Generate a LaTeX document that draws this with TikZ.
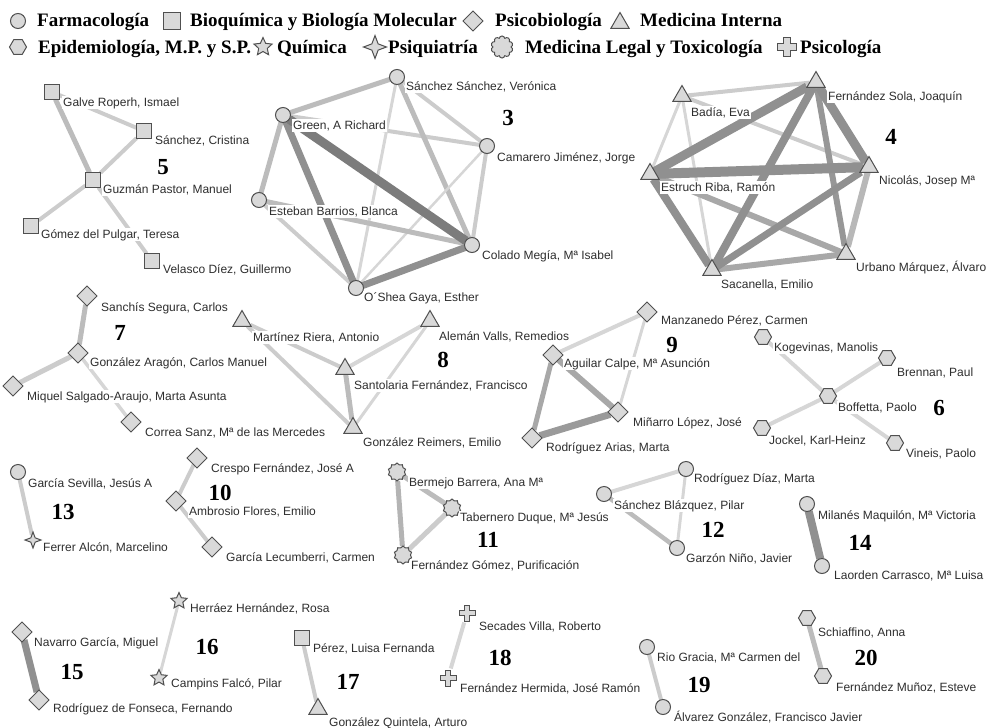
\documentclass[tikz,border=0pt]{standalone}
\usepackage{fontspec}
\setmainfont{Liberation Serif}
\newfontfamily\labfont{Liberation Sans}
\usetikzlibrary{shapes.geometric,shapes.symbols,backgrounds}

\definecolor{nodefill}{HTML}{D9D9D9}
\definecolor{nodeline}{HTML}{505050}
\definecolor{labtext}{HTML}{2E2E2E}
\definecolor{ecA}{HTML}{D6D6D6}
\definecolor{ecB}{HTML}{CCCCCC}
\definecolor{ecC}{HTML}{BCBCBC}
\definecolor{ecD}{HTML}{A8A8A8}
\definecolor{ecE}{HTML}{909090}
\definecolor{ecF}{HTML}{7C7C7C}

\begin{document}
\begin{tikzpicture}[x=1pt,y=-1pt,
  base/.style={draw=nodeline, fill=nodefill, line width=1pt, inner sep=0pt, outer sep=0pt},
  farm/.style={base, circle, minimum size=15pt},
  bioq/.style={base, rectangle, minimum size=15pt},
  psicob/.style={base, diamond, aspect=1, minimum size=20pt},
  medint/.style={base, regular polygon, regular polygon sides=3, minimum size=21pt},
  epid/.style={base, regular polygon, regular polygon sides=6, minimum size=17pt},
  quim/.style={base, star, star points=5, star point ratio=2.1, minimum size=17pt},
  psiq/.style={base, star, star points=4, star point ratio=2.6, minimum size=18pt},
  legal/.style={base, cloud, cloud puffs=10, cloud puff arc=160, aspect=1, minimum size=18pt},
  psicol/.style={rectangle, minimum size=19pt, inner sep=0pt, outer sep=0pt,
    path picture={\draw[draw=nodeline, fill=nodefill, line width=1pt]
      (path picture bounding box.center) ++(-2.8,-8) -- ++(5.6,0) -- ++(0,5.2) -- ++(5.2,0)
      -- ++(0,5.6) -- ++(-5.2,0) -- ++(0,5.2) -- ++(-5.6,0) -- ++(0,-5.2) -- ++(-5.2,0)
      -- ++(0,-5.6) -- ++(5.2,0) -- cycle;}},
  big/.style={scale=1.2},
  lbl/.style={font=\labfont\fontsize{12}{14}\selectfont, text=labtext, fill=white,
    anchor=base west, inner sep=1pt},
  num/.style={font=\fontsize{23}{26}\selectfont\bfseries, inner sep=0pt},
  leg/.style={font=\fontsize{19}{22}\selectfont\bfseries, anchor=base west, inner sep=0pt},
  ea/.style={draw=ecA, line width=3pt},
  eb/.style={draw=ecB, line width=4pt},
  ec/.style={draw=ecC, line width=5pt},
  ed/.style={draw=ecD, line width=6pt},
  ee/.style={draw=ecE, line width=8pt},
  ef/.style={draw=ecF, line width=9pt}]

\useasboundingbox (0,0) rectangle (993,728);

% ---------- legend ----------
\node[farm]   (lg1) at (18,21) {};  \node[leg] (lt1) at (37,27)  {Farmacología};
\node[bioq, minimum size=17pt] (lg2) at (172,21) {}; \node[leg] (lt2) at (190,27) {Bioquímica y Biología Molecular};
\node[psicob] (lg3) at (473,21) {}; \node[leg] (lt3) at (495,27) {Psicobiología};
\node[medint] (lg4) at (620,23) {}; \node[leg] (lt4) at (640,27) {Medicina Interna};
\node[epid]   (lg5) at (18,47) {};  \node[leg] (lt5) at (38,53)  {Epidemiología, M.P. y S.P.};
\node[quim, minimum size=19pt]  (lg6) at (263,47) {}; \node[leg] (lt6) at (277,53) {Química};
\node[psiq, minimum size=23pt]  (lg7) at (375,47) {}; \node[leg] (lt7) at (388,53) {Psiquiatría};
\node[legal, minimum size=22pt] (lg8) at (502,47) {}; \node[leg] (lt8) at (525,53) {Medicina Legal y Toxicología};
\node[psicol, big] (lg9) at (787,47) {}; \node[leg] (lt9) at (800,53) {Psicología};

% ---------- group 5 ----------
\node[bioq] (g5a) at (52,92) {};   \node[lbl] at (62,106)  {Galve Roperh, Ismael};
\node[bioq] (g5b) at (144,131) {}; \node[lbl] at (154,144) {Sánchez, Cristina};
\node[bioq] (g5c) at (93,180) {};  \node[lbl] at (102,193) {Guzmán Pastor, Manuel};
\node[bioq] (g5d) at (31,226) {};  \node[lbl] at (40,238)  {Gómez del Pulgar, Teresa};
\node[bioq] (g5e) at (152,261) {}; \node[lbl] at (162,273) {Velasco Díez, Guillermo};
\node[num] (n5) at (163,167) {5};

% ---------- group 3 ----------
\node[farm] (g3a) at (397,77) {};  \node[lbl] at (405,90)  {Sánchez Sánchez, Verónica};
\node[farm] (g3b) at (283,115) {}; \node[lbl] at (292,129) {Green, A Richard};
\node[farm] (g3c) at (487,146) {}; \node[lbl] at (496,161) {Camarero Jiménez, Jorge};
\node[farm] (g3d) at (259,200) {}; \node[lbl] at (268,215) {Esteban Barrios, Blanca};
\node[farm] (g3e) at (472,245) {}; \node[lbl] at (481,259) {Colado Megía, Mª Isabel};
\node[farm] (g3f) at (356,288) {}; \node[lbl] at (363,301) {O´Shea Gaya, Esther};
\node[num] (n3) at (508,118) {3};

% ---------- group 4 ----------
\node[medint] (g4a) at (682,96) {};  \node[lbl] at (690,116) {Badía, Eva};
\node[medint] (g4b) at (816,82) {};  \node[lbl] at (827,100) {Fernández Sola, Joaquín};
\node[medint] (g4c) at (650,174) {}; \node[lbl] at (660,191) {Estruch Riba, Ramón};
\node[medint] (g4d) at (869,167) {}; \node[lbl] at (878,184) {Nicolás, Josep Mª};
\node[medint] (g4e) at (846,254) {}; \node[lbl] at (855,271) {Urbano Márquez, Álvaro};
\node[medint] (g4f) at (712,270) {}; \node[lbl] at (720,288) {Sacanella, Emilio};
\node[num] (n4) at (891,137) {4};

% ---------- group 7 ----------
\node[psicob] (g7a) at (87,296) {};  \node[lbl] at (100,311) {Sanchís Segura, Carlos};
\node[psicob] (g7b) at (78,353) {};  \node[lbl] at (89,366)  {González Aragón, Carlos Manuel};
\node[psicob] (g7c) at (13,386) {};  \node[lbl] at (26,400)  {Miquel Salgado-Araujo, Marta Asunta};
\node[psicob] (g7d) at (131,422) {}; \node[lbl] at (144,436) {Correa Sanz, Mª de las Mercedes};
\node[num] (n7) at (120,333) {7};

% ---------- group 8 ----------
\node[medint] (g8a) at (242,321) {}; \node[lbl] at (252,341) {Martínez Riera, Antonio};
\node[medint] (g8b) at (430,321) {}; \node[lbl] at (438,340) {Alemán Valls, Remedios};
\node[medint] (g8c) at (345,369) {}; \node[lbl] at (353,389) {Santolaria Fernández, Francisco};
\node[medint] (g8d) at (353,428) {}; \node[lbl] at (362,446) {González Reimers, Emilio};
\node[num] (n8) at (443,360) {8};

% ---------- group 9 ----------
\node[psicob] (g9a) at (647,312) {}; \node[lbl] at (660,324) {Manzanedo Pérez, Carmen};
\node[psicob] (g9b) at (553,355) {}; \node[lbl] at (563,367) {Aguilar Calpe, Mª Asunción};
\node[psicob] (g9c) at (618,412) {}; \node[lbl] at (632,426) {Miñarro López, José};
\node[psicob] (g9d) at (532,438) {}; \node[lbl] at (545,451) {Rodríguez Arias, Marta};
\node[num] (n9) at (672,345) {9};

% ---------- group 6 ----------
\node[epid] (g6a) at (763,337) {}; \node[lbl] at (773,351) {Kogevinas, Manolis};
\node[epid] (g6b) at (887,358) {}; \node[lbl] at (896,376) {Brennan, Paul};
\node[epid] (g6c) at (828,396) {}; \node[lbl] at (837,411) {Boffetta, Paolo};
\node[epid] (g6d) at (762,428) {}; \node[lbl] at (768,444) {Jockel, Karl-Heinz};
\node[epid] (g6e) at (895,443) {}; \node[lbl] at (905,457) {Vineis, Paolo};
\node[num] (n6) at (939,408) {6};

% ---------- group 13 ----------
\node[farm] (g13a) at (18,472) {}; \node[lbl] at (27,487) {García Sevilla, Jesús A};
\node[psiq, minimum size=16pt] (g13b) at (33,540) {}; \node[lbl] at (42,551) {Ferrer Alcón, Marcelino};
\node[num] (n13) at (63,512) {13};

% ---------- group 10 ----------
\node[psicob] (g10a) at (197,458) {}; \node[lbl] at (210,472) {Crespo Fernández, José A};
\node[psicob] (g10b) at (176,501) {}; \node[lbl] at (188,515) {Ambrosio Flores, Emilio};
\node[psicob] (g10c) at (212,547) {}; \node[lbl] at (225,561) {García Lecumberri, Carmen};
\node[num] (n10) at (220,493) {10};

% ---------- group 11 ----------
\node[legal] (g11a) at (397,472) {}; \node[lbl] at (408,486) {Bermejo Barrera, Ana Mª};
\node[legal] (g11b) at (452,508) {}; \node[lbl] at (459,521) {Tabernero Duque, Mª Jesús};
\node[legal] (g11c) at (403,555) {}; \node[lbl] at (410,569) {Fernández Gómez, Purificación};
\node[num] (n11) at (488,540) {11};

% ---------- group 12 ----------
\node[farm] (g12a) at (686,469) {}; \node[lbl] at (693,482) {Rodríguez Díaz, Marta};
\node[farm] (g12b) at (604,494) {}; \node[lbl] at (613,509) {Sánchez Blázquez, Pilar};
\node[farm] (g12c) at (677,548) {}; \node[lbl] at (685,562) {Garzón Niño, Javier};
\node[num] (n12) at (713,530) {12};

% ---------- group 14 ----------
\node[farm] (g14a) at (807,504) {}; \node[lbl] at (817,519) {Milanés Maquilón, Mª Victoria};
\node[farm] (g14b) at (822,566) {}; \node[lbl] at (833,579) {Laorden Carrasco, Mª Luisa};
\node[num] (n14) at (860,543) {14};

% ---------- group 15 ----------
\node[psicob] (g15a) at (22,632) {}; \node[lbl] at (33,646) {Navarro García, Miguel};
\node[psicob] (g15b) at (39,700) {}; \node[lbl] at (52,712) {Rodríguez de Fonseca, Fernando};
\node[num] (n15) at (72,672) {15};

% ---------- group 16 ----------
\node[quim] (g16a) at (179,601) {}; \node[lbl] at (189,612) {Herráez Hernández, Rosa};
\node[quim] (g16b) at (159,678) {}; \node[lbl] at (170,687) {Campins Falcó, Pilar};
\node[num] (n16) at (207,647) {16};

% ---------- group 17 ----------
\node[bioq]   (g17a) at (302,638) {}; \node[lbl] at (312,652) {Pérez, Luisa Fernanda};
\node[medint] (g17b) at (318,709) {}; \node[lbl] at (328,726) {González Quintela, Arturo};
\node[num] (n17) at (348,682) {17};

% ---------- group 18 ----------
\node[psicol] (g18a) at (467,613) {}; \node[lbl] at (478,630) {Secades Villa, Roberto};
\node[psicol] (g18b) at (448,678) {}; \node[lbl] at (459,692) {Fernández Hermida, José Ramón};
\node[num] (n18) at (500,658) {18};

% ---------- group 19 ----------
\node[farm] (g19a) at (647,647) {}; \node[lbl] at (656,661) {Rio Gracia, Mª Carmen del};
\node[farm] (g19b) at (663,707) {}; \node[lbl] at (673,721) {Álvarez González, Francisco Javier};
\node[num] (n19) at (699,685) {19};

% ---------- group 20 ----------
\node[epid] (g20a) at (807,618) {}; \node[lbl] at (817,636) {Schiaffino, Anna};
\node[epid] (g20b) at (823,676) {}; \node[lbl] at (835,691) {Fernández Muñoz, Esteve};
\node[num] (n20) at (866,658) {20};

% ---------- co-authorship links (under nodes and labels) ----------
\begin{scope}[on background layer]
  % group 5
  \draw[ec] (g5a) -- (g5c);
  \draw[eb] (g5a) -- (g5b);
  \draw[eb] (g5b) -- (g5c);
  \draw[eb] (g5c) -- (g5d);
  \draw[eb] (g5c) -- (g5e);
  % group 3
  \draw[ec] (g3b) -- (g3a);
  \draw[ec] (g3b) -- (g3d);
  \draw[eb] (g3b) -- (g3c);
  \draw[ea] (g3a) -- (g3f);
  \draw[ec] (g3a) -- (g3e);
  \draw[eb] (g3a) -- (g3c);
  \draw[eb] (g3c) -- (g3e);
  \draw[ea, line width=2.5pt] (g3c) -- (g3f);
  \draw[ec] (g3d) -- (g3e);
  \draw[eb] (g3d) -- (g3f);
  \draw[ee, line width=7pt] (g3b) -- (g3f);
  \draw[ee, line width=7pt] (g3e) -- (g3f);
  \draw[ef] (g3b) -- (g3e);
  % group 4
  \draw[eb] (g4a) -- (g4b);
  \draw[ea] (g4a) -- (g4c);
  \draw[ea] (g4a) -- (g4f);
  \draw[eb] (g4a) -- (g4d);
  \draw[ed] (g4c) -- (g4e);
  \draw[ed, draw=ecC!80!ecD] (g4d) -- (g4e);
  \draw[ed] (g4e) -- (g4f);
  \draw[ee, line width=6pt, draw=ecE!70!ecD] (g4b) -- (g4e);
  \draw[ee] (g4c) -- (g4f);
  \draw[ee, line width=7pt] (g4d) -- (g4f);
  \draw[ee] (g4b) -- (g4f);
  \draw[ee, line width=9pt] (g4b) -- (g4c);
  \draw[ee, line width=9pt] (g4b) -- (g4d);
  \draw[ee, line width=10pt] (g4c) -- (g4d);
  % group 7
  \draw[ec] (g7a) -- (g7b);
  \draw[eb, line width=5pt] (g7b) -- (g7c);
  \draw[ea, line width=3.5pt] (g7b) -- (g7d);
  % group 8
  \draw[eb] (g8a) -- (g8c);
  \draw[eb] (g8a) -- (g8d);
  \draw[ea, line width=4pt] (g8b) -- (g8c);
  \draw[ea] (g8b) -- (g8d);
  \draw[ec] (g8c) -- (g8d);
  % group 9
  \draw[ea, line width=4pt] (g9a) -- (g9b);
  \draw[ea] (g9a) -- (g9c);
  \draw[ed] (g9b) -- (g9c);
  \draw[ed, line width=5pt] (g9b) -- (g9d);
  \draw[ee, line width=7pt, draw=ecE!60!ecD] (g9c) -- (g9d);
  % group 6
  \draw[ea, line width=4pt] (g6a) -- (g6c);
  \draw[ea, line width=4pt] (g6b) -- (g6c);
  \draw[ea, line width=4pt] (g6d) -- (g6c);
  \draw[ea, line width=4pt] (g6e) -- (g6c);
  % group 13
  \draw[eb] (g13a) -- (g13b);
  % group 10
  \draw[eb] (g10a) -- (g10b);
  \draw[eb] (g10b) -- (g10c);
  % group 11
  \draw[ec, draw=ecC!60!ecD] (g11a) -- (g11c);
  \draw[ec] (g11a) -- (g11b);
  \draw[eb, line width=5pt] (g11b) -- (g11c);
  % group 12
  \draw[ea, line width=4pt] (g12b) -- (g12a);
  \draw[ea] (g12a) -- (g12c);
  \draw[ec, line width=4.5pt] (g12b) -- (g12c);
  % group 14
  \draw[ee] (g14a) -- (g14b);
  % group 15
  \draw[ee, line width=7pt] (g15a) -- (g15b);
  % group 16
  \draw[ea] (g16a) -- (g16b);
  % group 17
  \draw[eb] (g17a) -- (g17b);
  % group 18
  \draw[ea, line width=4pt] (g18a) -- (g18b);
  % group 19
  \draw[eb] (g19a) -- (g19b);
  % group 20
  \draw[ec] (g20a) -- (g20b);
\end{scope}
\end{tikzpicture}
\end{document}
